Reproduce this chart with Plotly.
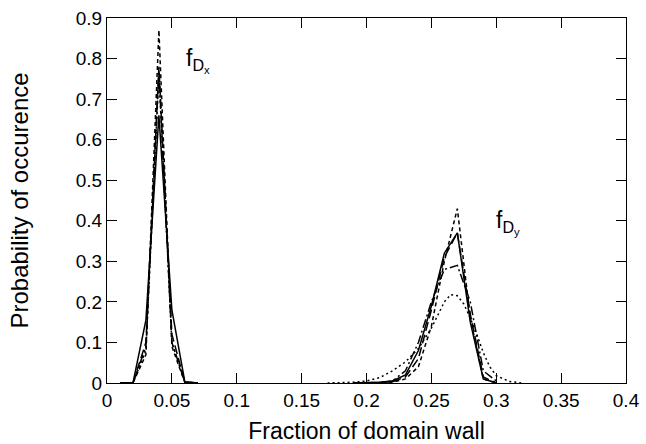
import plotly.graph_objects as go

# x positions and series values (None separates the two peaks)
x_a = [0.01, 0.02, 0.03, 0.04, 0.05, 0.06, 0.07, None,
       0.19, 0.20, 0.21, 0.22, 0.23, 0.24, 0.25, 0.26, 0.27, 0.28, 0.29, 0.30]
y_solid = [0, 0, 0.155, 0.66, 0.18, 0.003, 0, None,
           0, 0.001, 0.002, 0.005, 0.02, 0.08, 0.19, 0.32, 0.37, 0.15, 0.01, 0]
y_longdash = [0, 0, 0.10, 0.78, 0.12, 0.002, 0, None,
              0, 0, 0.001, 0.003, 0.015, 0.06, 0.18, 0.31, 0.37, 0.17, 0.015, 0]
y_shortdash = [0, 0, 0.07, 0.87, 0.09, 0.001, 0, None,
               0, 0, 0, 0.002, 0.01, 0.04, 0.14, 0.30, 0.43, 0.16, 0.01, 0]
y_dashdot = [0, 0, 0.09, 0.77, 0.10, 0.002, 0, None,
             0, 0.001, 0.002, 0.005, 0.03, 0.10, 0.20, 0.28, 0.29, 0.20, 0.03, 0.005]

x_dot = [0.01, 0.02, 0.03, 0.04, 0.05, 0.06, 0.07, None,
         0.17, 0.18, 0.19, 0.20, 0.21, 0.22, 0.23, 0.24, 0.25, 0.26, 0.265, 0.27,
         0.275, 0.28, 0.285, 0.29, 0.295, 0.30, 0.31, 0.32]
y_dotted = [0, 0, 0.08, 0.76, 0.10, 0.002, 0, None,
            0, 0.001, 0.002, 0.005, 0.013, 0.03, 0.052, 0.085, 0.135, 0.2, 0.218, 0.215,
            0.195, 0.16, 0.12, 0.075, 0.04, 0.018, 0.004, 0]

x_ticks = [0, 0.05, 0.1, 0.15, 0.2, 0.25, 0.3, 0.35, 0.4]
x_tick_labels = ["0", "0.05", "0.1", "0.15", "0.2", "0.25", "0.3", "0.35", "0.4"]
y_ticks = [0, 0.1, 0.2, 0.3, 0.4, 0.5, 0.6, 0.7, 0.8, 0.9]
y_tick_labels = ["0", "0.1", "0.2", "0.3", "0.4", "0.5", "0.6", "0.7", "0.8", "0.9"]

series = [
    (x_a, y_solid, "solid"),
    (x_a, y_longdash, "9px,4px"),
    (x_a, y_shortdash, "4px,3px"),
    (x_a, y_dashdot, "9px,3px,2px,3px"),
    (x_dot, y_dotted, "2px,3px"),
]

fig = go.Figure()
for xs, ys, dash in series:
    fig.add_trace(go.Scatter(x=xs, y=ys, mode="lines",
                             line=dict(color="black", width=1.5, dash=dash),
                             connectgaps=False, showlegend=False))

font = dict(family="Liberation Sans, Arial, sans-serif", color="black")

fig.add_annotation(x=0.059, y=0.796, xref="x", yref="y", showarrow=False,
                   text="f<sub>D<sub>x</sub></sub>", xanchor="left", yanchor="middle",
                   font=dict(size=23, **font))
fig.add_annotation(x=0.298, y=0.395, xref="x", yref="y", showarrow=False,
                   text="f<sub>D<sub>y</sub></sub>", xanchor="left", yanchor="middle",
                   font=dict(size=23, **font))

axis_common = dict(showline=True, linecolor="black", linewidth=1.3, mirror="allticks",
                   ticks="inside", ticklen=10, tickcolor="black", tickwidth=1.2,
                   showgrid=False, zeroline=False, automargin=False,
                   tickfont=dict(size=19, **font))

fig.update_xaxes(range=[0, 0.4], tickvals=x_ticks, ticktext=x_tick_labels,
                 title=dict(text="Fraction of domain wall", font=dict(size=23, **font), standoff=14),
                 **axis_common)
fig.update_yaxes(range=[0, 0.9], tickvals=y_ticks, ticktext=y_tick_labels,
                 title=dict(text="Probability of occurence", font=dict(size=24, **font), standoff=40),
                 **axis_common)

fig.update_layout(width=646, height=444, plot_bgcolor="white", paper_bgcolor="white",
                  margin=dict(l=107, r=20, t=18, b=61), font=font)

fig.write_html("out.html", config={"displayModeBar": False},
               post_script="document.body.style.margin='0';document.body.style.overflow='hidden';")
